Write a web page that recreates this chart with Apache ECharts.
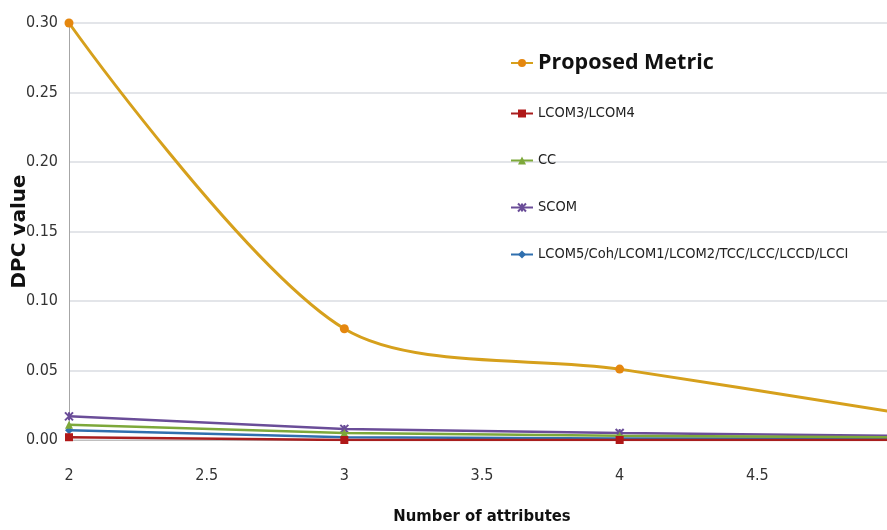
<!DOCTYPE html>
<html><head><meta charset="utf-8">
<script src="https://cdn.jsdelivr.net/npm/echarts@6/dist/echarts.min.js"></script>
<style>html,body{margin:0;padding:0;background:#fff}#c{width:887px;height:530px}</style>
</head><body><div id="c"></div>
<script>
const xValues = [2, 3, 4, 5];
const proposed = [0.300, 0.080, 0.051, 0.020];
const lcom34 = [0.002, 0.000, 0.000, 0.000];
const cc = [0.011, 0.005, 0.003, 0.002];
const scom = [0.017, 0.008, 0.005, 0.003];
const lcom5 = [0.007, 0.002, 0.001, 0.001];
const seriesNames = ['Proposed Metric', 'LCOM3/LCOM4', 'CC', 'SCOM', 'LCOM5/Coh/LCOM1/LCOM2/TCC/LCC/LCCD/LCCI'];

const pairs = arr => xValues.map((x, i) => [x, arr[i]]);
const narrow = "'Liberation Sans Narrow','DejaVu Sans Condensed',sans-serif";

const defs = [
  {data: proposed, color: '#D6A01C', mcolor: '#E5870F', symbol: 'circle', size: 9, smooth: 0.3, width: 3},
  {data: lcom34, color: '#A81E1E', mcolor: '#B01818', symbol: 'rect', size: 8, smooth: false, width: 2.5},
  {data: cc, color: '#7DA83A', mcolor: '#7DA83A', symbol: 'triangle', size: 8, smooth: false, width: 2.5},
  {data: scom, color: '#6A4D98', mcolor: '#6A4D98', symbol: 'path://M0,0L10,10M10,0L0,10M5,0L5,10', size: 8, smooth: false, width: 2.5},
  {data: lcom5, color: '#2F6FAE', mcolor: '#2F6FAE', symbol: 'diamond', size: 8, smooth: false, width: 2.5}
];

const chart = echarts.init(document.getElementById('c'), null, {renderer: 'canvas'});
chart.setOption({
  animation: false,
  backgroundColor: '#fff',
  grid: {left: 69, right: -8, top: 23, bottom: 90, containLabel: false, outerBoundsMode: 'none'},
  legend: {
    orient: 'vertical', left: 505, top: 47, itemGap: 32, itemWidth: 22, itemHeight: 10,
    data: seriesNames.map((n, i) => ({
      name: n,
      textStyle: i === 0
        ? {fontFamily: "'Open Sans',sans-serif", fontWeight: 'bold', fontSize: 21.5, color: '#111'}
        : {fontFamily: narrow, fontSize: 14.5, color: '#222'}
    }))
  },
  xAxis: {
    type: 'value', min: 2, max: 5, interval: 0.5,
    name: 'Number of attributes', nameLocation: 'middle', nameGap: 68, nameMoveOverlap: false,
    nameTextStyle: {fontFamily: narrow, fontWeight: 'bold', fontSize: 16.5, color: '#111'},
    axisLine: {show: true, lineStyle: {color: '#bfbfbf'}},
    axisTick: {show: false},
    splitLine: {show: false},
    axisLabel: {margin: 28, fontFamily: narrow, fontSize: 16, color: '#333', showMaxLabel: false,
      formatter: v => String(v)}
  },
  yAxis: {
    type: 'value', min: 0, max: 0.30, interval: 0.05,
    name: 'DPC value', nameLocation: 'middle', nameGap: 39, nameRotate: 90, nameMoveOverlap: false,
    nameTextStyle: {fontFamily: "'DejaVu Sans',sans-serif", fontWeight: 'bold', fontSize: 20, color: '#111'},
    axisLine: {show: true, lineStyle: {color: '#a6a6a6'}},
    axisTick: {show: false},
    splitLine: {show: true, lineStyle: {color: '#dadde2', width: 1.5}},
    axisLabel: {margin: 11, fontFamily: narrow, fontSize: 16, color: '#333',
      formatter: v => v.toFixed(2)}
  },
  series: defs.map((d, i) => ({
    name: seriesNames[i], type: 'line', data: pairs(d.data), smooth: d.smooth,
    symbol: d.symbol, symbolSize: d.size, showSymbol: true, clip: true,
    z: 10 - i,
    lineStyle: {color: d.color, width: d.width},
    itemStyle: {color: d.mcolor, borderColor: d.mcolor, borderWidth: d.symbol.startsWith('path') ? 2 : 0}
  })).reverse()
});
</script></body></html>
